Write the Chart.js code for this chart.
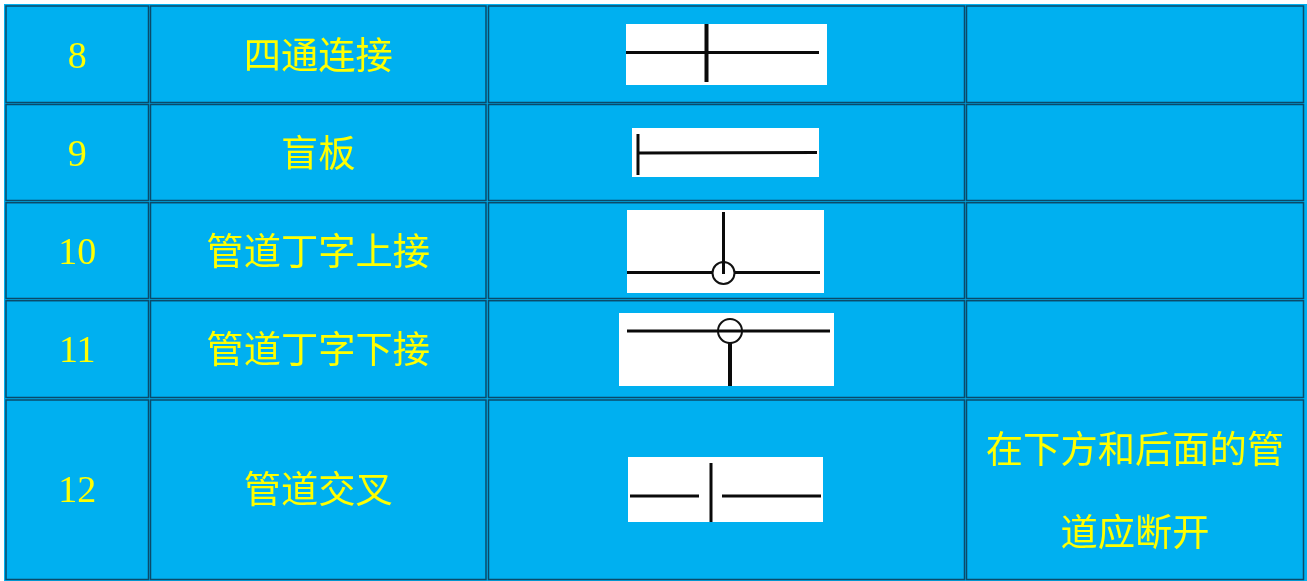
<!DOCTYPE html>
<html lang="zh">
<head>
  <meta charset="UTF-8">
  <title>管道图例</title>
  <script src="https://cdn.jsdelivr.net/npm/chart.js"></script>
  <style>
    body { margin: 0; background-color: #ffffff; overflow: hidden; }
    canvas { display: block; }
  </style>
</head>
<body>
  <canvas id="myChart" width="1307" height="581"></canvas>

  <script>
    // Table content
    const rowNumbers = ['8', '9', '10', '11', '12'];
    const rowNames = ['四通连接', '盲板', '管道丁字上接', '管道丁字下接', '管道交叉'];
    const lastRowNote = ['在下方和后面的管', '道应断开'];

    // Pipe symbols, in axis units (the axes run in picture pixels)
    const crossH = [{x: 626, y: 52.5}, {x: 819, y: 52.5}];
    const crossV = [{x: 706.5, y: 24}, {x: 706.5, y: 82}];
    const blindV = [{x: 638, y: 134}, {x: 638, y: 175}];
    const blindH = [{x: 638, y: 153}, {x: 817, y: 152.5}];
    const upTeeLeft = [{x: 627, y: 272.5}, {x: 712, y: 272.5}];
    const upTeeRight = [{x: 735, y: 272.5}, {x: 820, y: 272.5}];
    const upTeeV = [{x: 723.5, y: 212}, {x: 723.5, y: 274}];
    const upTeeRing = [{x: 723.5, y: 273}];
    const downTeeH = [{x: 627, y: 331}, {x: 830, y: 331}];
    const downTeeV = [{x: 730, y: 343}, {x: 730, y: 386}];
    const downTeeRing = [{x: 730, y: 331}];
    const gapLeft = [{x: 630, y: 496}, {x: 699, y: 496}];
    const gapRight = [{x: 722, y: 496}, {x: 821, y: 496}];
    const gapV = [{x: 711, y: 463}, {x: 711, y: 522}];

    // Table layout
    const tableBox = [4, 4, 1307, 581];
    const columnEdges = [[6, 148.5], [150.5, 486], [488.5, 964.5], [966.5, 1303.5]];
    const rowEdges = [[6, 102.5], [104.5, 200.5], [202.7, 298.5], [300.7, 397.5], [400, 579.5]];
    const rowTextY = [55, 153, 251, 349, 489];
    const noteLineY = [449, 532];
    const whiteBoxes = [
      [626, 24, 827, 85], [632, 128, 819, 177], [627, 210, 824, 293],
      [619, 313, 834, 386], [628, 457, 823, 522]
    ];

    function pipe(data, width) {
      return { data: data, showLine: true, borderColor: '#0a0a0a', borderWidth: width, pointRadius: 0 };
    }
    function ring(data, radius) {
      return {
        data: data, showLine: false, pointRadius: radius, pointBorderWidth: 2,
        pointBorderColor: '#111111', pointBackgroundColor: 'rgba(0,0,0,0)'
      };
    }

    // Draws the cells and white boxes under the pipes, text on top
    const tablePlugin = {
      id: 'tablePlugin',
      beforeDatasetsDraw(chart) {
        const c = chart.ctx, sx = chart.scales.x, sy = chart.scales.y;
        const box = (b, draw) => {
          const x0 = sx.getPixelForValue(b[0]), y0 = sy.getPixelForValue(b[1]);
          draw(x0, y0, sx.getPixelForValue(b[2]) - x0, sy.getPixelForValue(b[3]) - y0);
        };
        c.save();
        c.fillStyle = '#00B0F0';
        box(tableBox, (x, y, w, h) => c.fillRect(x, y, w, h));
        c.strokeStyle = '#0a4a6a';
        c.lineWidth = 1.5;
        rowEdges.forEach(r => columnEdges.forEach(col => {
          box([col[0], r[0], col[1], r[1]], (x, y, w, h) => c.strokeRect(x, y, w, h));
        }));
        c.fillStyle = '#ffffff';
        whiteBoxes.forEach(b => box(b, (x, y, w, h) => c.fillRect(x, y, w, h)));
        c.restore();
      },
      afterDatasetsDraw(chart) {
        const c = chart.ctx, sx = chart.scales.x, sy = chart.scales.y;
        c.save();
        c.fillStyle = '#FFFF00';
        c.textAlign = 'center';
        c.textBaseline = 'middle';
        const mid = col => sx.getPixelForValue((columnEdges[col][0] + columnEdges[col][1]) / 2);
        rowNumbers.forEach((n, i) => {
          c.font = '38px "Liberation Serif"';
          c.fillText(n, mid(0), sy.getPixelForValue(rowTextY[i] + 3));
          c.font = '37.3px "Noto Sans CJK SC"';
          c.fillText(rowNames[i], mid(1), sy.getPixelForValue(rowTextY[i]));
        });
        lastRowNote.forEach((t, i) => {
          c.fillText(t, mid(3), sy.getPixelForValue(noteLineY[i]));
        });
        c.restore();
      }
    };

    const ctx = document.getElementById('myChart').getContext('2d');
    new Chart(ctx, {
      type: 'scatter',
      data: {
        datasets: [
          pipe(crossH, 3), pipe(crossV, 4),
          pipe(blindV, 3), pipe(blindH, 3),
          pipe(upTeeLeft, 3), pipe(upTeeRight, 3), pipe(upTeeV, 3), ring(upTeeRing, 11),
          pipe(downTeeH, 3), ring(downTeeRing, 12), pipe(downTeeV, 4),
          pipe(gapLeft, 3), pipe(gapRight, 3), pipe(gapV, 3)
        ]
      },
      options: {
        responsive: false,
        animation: false,
        layout: { padding: 0, autoPadding: false },
        plugins: { legend: { display: false }, tooltip: { enabled: false } },
        scales: {
          x: { type: 'linear', min: 0, max: 1307, display: false },
          y: { type: 'linear', min: 0, max: 581, reverse: true, display: false }
        }
      },
      plugins: [tablePlugin]
    });
  </script>
</body>
</html>
